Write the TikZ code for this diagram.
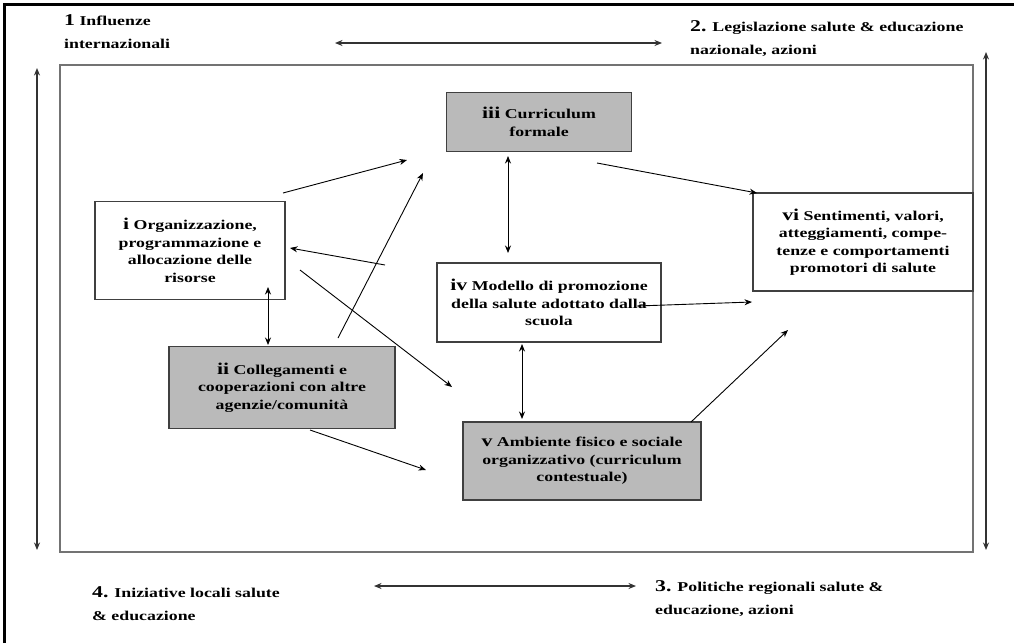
\documentclass[tikz,border=0pt]{standalone}
\usepackage{fontspec}
\setmainfont{Liberation Serif}[FakeStretch=1.32]
\usetikzlibrary{arrows.meta}

\begin{document}
\begin{tikzpicture}[x=1pt,y=-1pt,
  box/.style={draw=black!75, line width=1.4pt, rectangle, inner sep=0pt,
    align=center, font=\fontsize{13.5}{17.5}\selectfont\bfseries},
  shaded/.style={box, fill=black!27},
  plain/.style={box, fill=white},
  label/.style={anchor=west, align=left, inner sep=0pt,
    font=\fontsize{13.5}{23}\selectfont\bfseries},
  conn/.style={draw=black, line width=0.9pt, -{Stealth[length=7.5pt,width=6pt]}},
  twoway/.style={draw=black, line width=0.9pt, {Stealth[length=7.5pt,width=6pt]}-{Stealth[length=7.5pt,width=6pt]}},
  outer/.style={draw=black!80, line width=1.1pt, {Stealth[length=7.5pt,width=6pt]}-{Stealth[length=7.5pt,width=6pt]}}
]
\newcommand{\numeral}[1]{{\fontsize{16.5}{17.5}\selectfont #1}}
\useasboundingbox (0,0) rectangle (1014,643);

% page frame (top and left edges)
\draw[line width=3pt] (4,643) -- (4,4) -- (1014,4);

% inner field
\draw[draw=black!55, line width=1.3pt] (60,65) rectangle (973,552);

% surrounding influences
\node[label] (l1) at (64,32) {\numeral{1} Influenze\\internazionali};
\node[label] (l2) at (690,38.5) {\numeral{2.} Legislazione salute \& educazione\\nazionale, azioni};
\node[label] (l4) at (92,603.5) {\numeral{4.} Iniziative locali salute\\\& educazione};
\node[label] (l3) at (655,598.5) {\numeral{3.} Politiche regionali salute \&\\educazione, azioni};

\coordinate (tl) at (335,43);  \coordinate (tr) at (662,43);
\coordinate (bl) at (374,586); \coordinate (br) at (636,586);
\coordinate (lt) at (37,68);   \coordinate (lb) at (37,550);
\coordinate (rt) at (986,52);  \coordinate (rb) at (986,550);
\draw[outer] (tl) -- (tr);
\draw[outer] (bl) -- (br);
\draw[outer] (lt) -- (lb);
\draw[outer] (rt) -- (rb);

% components
\node[shaded, minimum width=185pt, minimum height=59pt] (iii) at (539,122)
  {\numeral{iii} Curriculum\\formale};
\node[plain, minimum width=190pt, minimum height=98pt] (i) at (190,250.5)
  {\numeral{i} Organizzazione,\\programmazione e\\allocazione delle\\risorse};
\node[plain, minimum width=220pt, minimum height=98pt] (vi) at (863,242)
  {\numeral{vi} Sentimenti, valori,\\atteggiamenti, compe-\\tenze e comportamenti\\promotori di salute};
\node[plain, minimum width=224pt, minimum height=79pt] (iv) at (549,302.5)
  {\numeral{iv} Modello di promozione\\della salute adottato dalla\\scuola};
\node[shaded, minimum width=226pt, minimum height=82pt] (ii) at (282,387.5)
  {\numeral{ii} Collegamenti e\\cooperazioni con altre\\agenzie/comunità};
\node[shaded, minimum width=238pt, minimum height=78pt] (v) at (582,461)
  {\numeral{v} Ambiente fisico e sociale\\organizzativo (curriculum\\contestuale)};

% ends of the connectors
\coordinate (a1s) at (283,193);  \coordinate (a1e) at (407,160);
\coordinate (a2s) at (597,163);  \coordinate (a2e) at (757,193);
\coordinate (a3s) at (508,156);  \coordinate (a3e) at (508,253);
\coordinate (a4s) at (385,265);  \coordinate (a4e) at (290,248);
\coordinate (a5s) at (300,270);  \coordinate (a5e) at (452,387);
\coordinate (a6s) at (268,287);  \coordinate (a6e) at (268,345);
\coordinate (a7s) at (338,338);  \coordinate (a7e) at (423,173);
\coordinate (a8s) at (637,306);  \coordinate (a8e) at (752,302);
\coordinate (a9s) at (522,344);  \coordinate (a9e) at (522,419);
\coordinate (a10s) at (310,430); \coordinate (a10e) at (426,470);
\coordinate (a11s) at (691,422); \coordinate (a11e) at (788,330);

% connectors
\draw[conn] (a1s) -- (a1e);
\draw[conn] (a2s) -- (a2e);
\draw[twoway] (a3s) -- (a3e);
\draw[conn] (a4s) -- (a4e);
\draw[conn] (a5s) -- (a5e);
\draw[twoway] (a6s) -- (a6e);
\draw[conn] (a7s) -- (a7e);
\draw[conn] (a8s) -- (a8e);
\draw[twoway] (a9s) -- (a9e);
\draw[conn] (a10s) -- (a10e);
\draw[conn] (a11s) -- (a11e);
\end{tikzpicture}
\end{document}
